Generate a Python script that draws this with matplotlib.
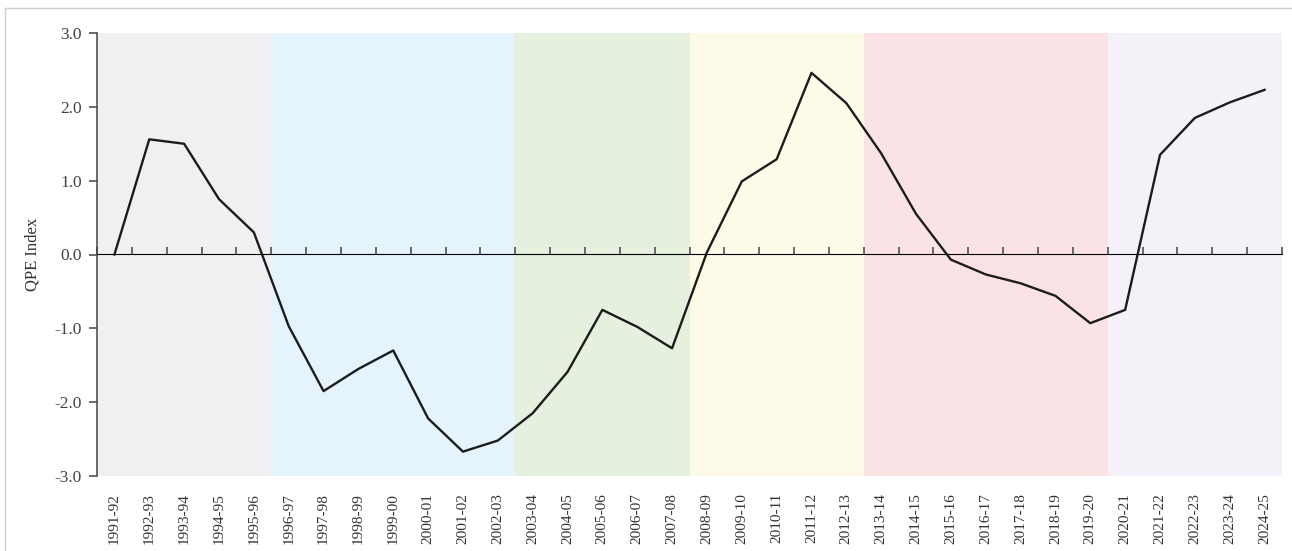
import matplotlib
matplotlib.use("Agg")
import matplotlib.pyplot as plt
from matplotlib.lines import Line2D

categories = ["1991-92", "1992-93", "1993-94", "1994-95", "1995-96", "1996-97", "1997-98",
              "1998-99", "1999-00", "2000-01", "2001-02", "2002-03", "2003-04", "2004-05",
              "2005-06", "2006-07", "2007-08", "2008-09", "2009-10", "2010-11", "2011-12",
              "2012-13", "2013-14", "2014-15", "2015-16", "2016-17", "2017-18", "2018-19",
              "2019-20", "2020-21", "2021-22", "2022-23", "2023-24", "2024-25"]
qpe_index = [0.00, 1.56, 1.50, 0.75, 0.30, -0.97, -1.85, -1.55, -1.30, -2.22, -2.67, -2.52,
             -2.15, -1.59, -0.75, -0.98, -1.27, 0.03, 0.99, 1.29, 2.46, 2.05, 1.37, 0.55,
             -0.07, -0.27, -0.39, -0.56, -0.93, -0.75, 1.35, 1.85, 2.06, 2.23]
band_sizes = [5, 7, 5, 5, 7, 5]
band_colors = ["#f0f0f3", "#e4f3fc", "#e5f0df", "#fdfbe8", "#fbe3e5", "#f5f1f8"]
y_ticks = [-3.0, -2.0, -1.0, 0.0, 1.0, 2.0, 3.0]

plt.rcParams['axes.unicode_minus'] = False
serif = ["Liberation Serif", "DejaVu Serif"]

fig = plt.figure(figsize=(12.92, 5.51), dpi=100)
ax = fig.add_axes([97/1292, 1 - 476/551, (1282 - 97)/1292, (476 - 33)/551])

n = len(categories)
x = list(range(n))

start = -0.5
for size, col in zip(band_sizes, band_colors):
    ax.axvspan(start, start + size, color=col, lw=0, zorder=0)
    start += size

ax.plot(x, qpe_index, color="#1c1c1c", lw=1.7, zorder=3)

ax.set_xlim(-0.5, n - 0.5)
ax.set_ylim(-3, 3)

for s in ["top", "right", "bottom"]:
    ax.spines[s].set_visible(False)
ax.spines["left"].set_color("#444444")
ax.spines["left"].set_linewidth(1.1)

ax.set_yticks(y_ticks)
ax.set_yticklabels([f"{v:.1f}" for v in y_ticks], fontfamily=serif, fontsize=12.5, color="#444444")
ax.tick_params(axis="y", direction="out", length=6, width=1.1, color="#444444", pad=5)

ax.set_xticks(x)
ax.set_xticklabels(categories, rotation=90, fontfamily=serif, fontsize=11, color="#333333")
ax.tick_params(axis="x", length=0, pad=12)

# zero line with boundary ticks
sec = ax.secondary_xaxis(0.5)
sec.spines["bottom"].set_color("#444444")
sec.spines["bottom"].set_linewidth(1.1)
sec.set_xticks([i - 0.5 for i in range(n + 1)])
sec.set_xticklabels([])
sec.tick_params(axis="x", direction="out", length=5, width=1.1, color="#444444")

ax.set_ylabel("QPE Index", fontfamily=serif, fontsize=12, color="#333333", labelpad=10)

# light frame of the screenshot
fig.add_artist(Line2D([5/1292, 5/1292], [0, 1 - 8/551], transform=fig.transFigure, color="#cfcfcf", lw=1))
fig.add_artist(Line2D([5/1292, 1], [1 - 8/551, 1 - 8/551], transform=fig.transFigure, color="#cfcfcf", lw=1))

fig.savefig("out.png", dpi=100, facecolor="white")
